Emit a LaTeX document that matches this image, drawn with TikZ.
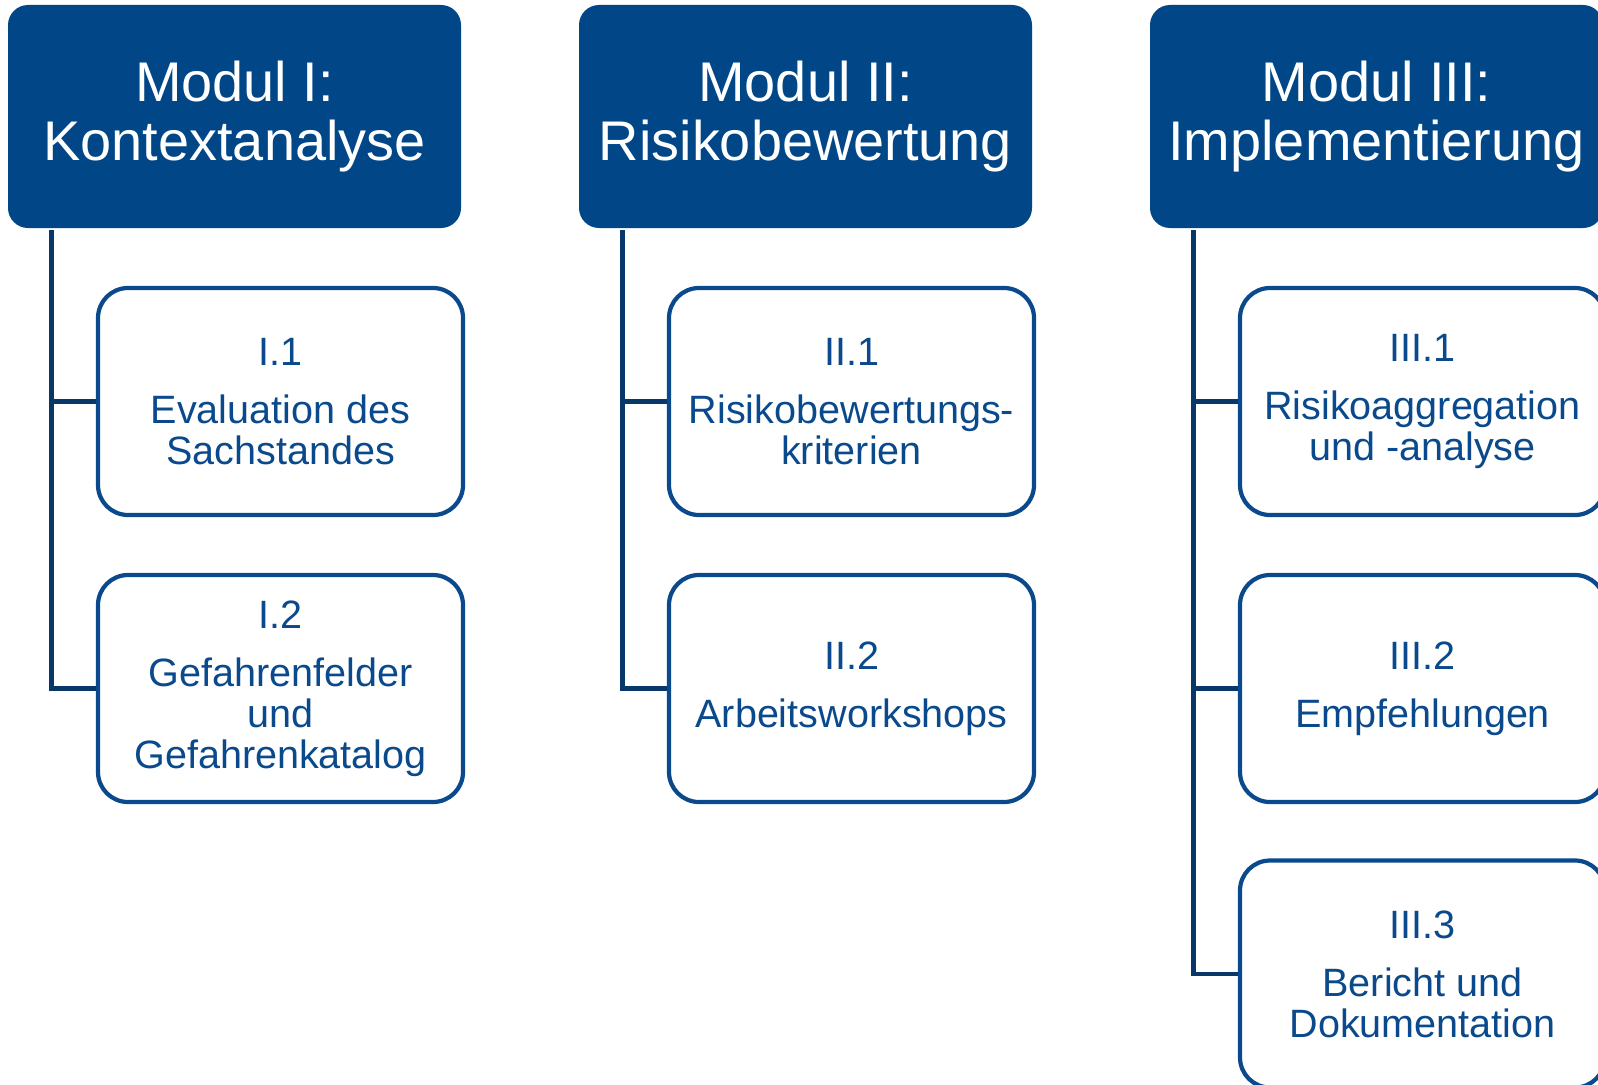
\documentclass[tikz,border=0pt]{standalone}
\usepackage{fontspec}
\setmainfont{Liberation Sans}
\definecolor{modblue}{RGB}{1,70,135}
\definecolor{txtblue}{RGB}{10,74,140}
\definecolor{linkblue}{RGB}{8,56,106}
\tikzset{
  modul/.style={fill=modblue, rounded corners=0.4cm, minimum width=9.06cm, minimum height=4.46cm,
    text=white, align=center, inner sep=0pt, font=\fontsize{31.8}{33.5}\selectfont},
  teil/.style={draw=txtblue, line width=2.4pt, fill=white, rounded corners=0.6cm,
    minimum width=7.3cm, minimum height=4.54cm, text=txtblue, align=center, inner sep=0pt,
    font=\fontsize{22.5}{23.3}\selectfont},
  link/.style={draw=linkblue, line width=2.6pt}
}
\begin{document}
\begin{tikzpicture}
\clip (0,0) rectangle (31.96,-21.68);

\node[modul](m1) at (4.69,-2.33) {Modul I:\\Kontextanalyse};
\node[modul](m2) at (16.11,-2.33) {Modul II:\\Risikobewertung};
\node[modul](m3) at (27.53,-2.33) {Modul III:\\Implementierung};

\node[teil](c11) at (5.61,-8.03) {I.1\\[9.7pt]Evaluation des\\Sachstandes};
\node[teil](c12) at (5.61,-13.77) {I.2\\[9.7pt]Gefahrenfelder\\und\\Gefahrenkatalog};

\node[teil](c21) at (17.03,-8.03) {II.1\\[9.7pt]Risikobewertungs-\\kriterien};
\node[teil](c22) at (17.03,-13.77) {II.2\\[9.7pt]Arbeitsworkshops};

\node[teil](c31) at (28.45,-8.03) {III.1\\[9.7pt]Risikoaggregation\\und -analyse};
\node[teil](c32) at (28.45,-13.77) {III.2\\[9.7pt]Empfehlungen};
\node[teil](c33) at (28.45,-19.48) {III.3\\[9.7pt]Bericht und\\Dokumentation};

\coordinate(t1) at (1.03,-4.6);
\coordinate(t2) at (12.45,-4.6);
\coordinate(t3) at (23.87,-4.6);

\draw[link] (t1) |- (c11.west);
\draw[link] (t1) |- (c12.west);
\draw[link] (t2) |- (c21.west);
\draw[link] (t2) |- (c22.west);
\draw[link] (t3) |- (c31.west);
\draw[link] (t3) |- (c32.west);
\draw[link] (t3) |- (c33.west);

\end{tikzpicture}
\end{document}
